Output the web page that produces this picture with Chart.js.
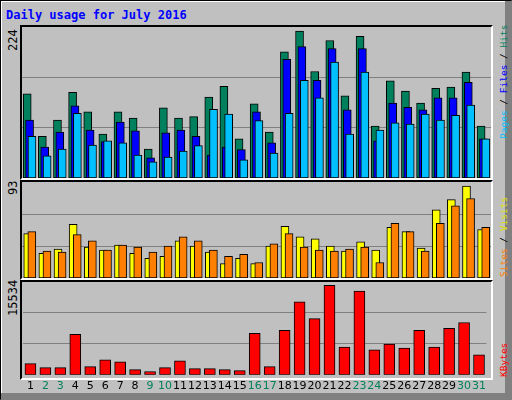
<!DOCTYPE html>
<html><head><meta charset="utf-8">
<script src="https://cdn.jsdelivr.net/npm/chart.js@4"></script>
<style>
body{margin:0;background:#fff}
#w{position:absolute;left:0;top:0;width:510px;height:398px;background:#c0c0c0;border-left:1px solid #000;border-top:1px solid #000;border-right:1px solid #808080;border-bottom:1px solid #808080;box-shadow:inset -6px -6px 0 #808080,inset 1px 1px 0 #fff;font-family:"DejaVu Sans Mono",monospace}
.box{position:absolute;border-top:2px solid #000;border-left:2px solid #000;border-right:2px solid #fff;border-bottom:2px solid #fff;box-sizing:border-box}
.c{position:absolute}
.v{position:absolute;transform-origin:0 0;transform:rotate(-90deg);white-space:nowrap;font-size:12px}
.r{font-size:9.5px}
#t{position:absolute;left:5px;top:7px;color:#0000ff;font-weight:bold;font-size:12px}
</style></head><body>
<div id="w">
<div id="t">Daily usage for July 2016</div>
<div class="box" style="left:19px;top:24px;width:473px;height:155px"></div>
<div class="box" style="left:19px;top:179px;width:473px;height:100px"></div>
<div class="box" style="left:19px;top:279px;width:473px;height:100px"></div>
<div class="c" style="left:21px;top:26px;width:469px;height:151px"><canvas id="c1"></canvas></div>
<div class="c" style="left:21px;top:181px;width:469px;height:96px"><canvas id="c2"></canvas></div>
<div class="c" style="left:21px;top:281px;width:469px;height:116px"><canvas id="c3"></canvas></div>
<div class="v" style="left:5px;top:50px">224</div>
<div class="v" style="left:5px;top:194px">93</div>
<div class="v" style="left:5px;top:315px">15534</div>
<div class="v r" style="left:497px;top:138px"><span style="color:#00c0ff">Pages</span> / <span style="color:#0000ff">Files</span> / <span style="color:#00805c">Hits</span></div>
<div class="v r" style="left:497px;top:276px"><span style="color:#ff8000">Sites</span> / <span style="color:#e0e000">Visits</span></div>
<div class="v r" style="left:497px;top:376px;color:#ff0000">KBytes</div>
</div>
<script>
const days=[1,2,3,4,5,6,7,8,9,10,11,12,13,14,15,16,17,18,19,20,21,22,23,24,25,26,27,28,29,30,31];
const weekend=[2,3,9,10,16,17,23,24,30,31];
const hits=[125,62,86,127,98,65,98,89,43,104,89,91,120,136,58,110,68,187,218,158,204,122,210,77,144,129,111,133,135,157,77];
const files=[86,46,68,107,71,54,83,70,30,67,71,62,34,46,42,98,52,176,195,145,192,101,192,55,111,105,101,119,119,142,58];
const pages=[62,33,43,96,49,55,52,34,24,31,40,48,102,95,27,85,37,96,145,119,172,65,157,71,82,80,95,86,93,108,58];
const visits=[43,24,28,52,30,27,32,24,19,21,36,31,25,14,19,14,31,50,40,38,31,26,35,27,49,45,29,66,76,89,47];
const sites=[45,26,25,42,36,27,32,30,25,31,40,36,27,21,23,15,33,43,30,27,26,28,30,15,53,45,26,53,70,77,49];
const kbytes=[1860,1200,1200,6780,1370,2520,2190,875,550,1200,2350,1040,1040,875,710,6950,1370,7440,12200,9410,14990,4650,14000,4160,5140,4490,7440,4650,7770,8750,3340];
const maxTop=224,maxMid=93,maxBot=15534;

function ds(vals,off,color,w,ord){return{data:vals.map((v,i)=>({x:days[i]+off,y:v})),backgroundColor:color,borderColor:'#000',borderWidth:1,barThickness:w,grouped:false,borderSkipped:false,order:ord};}
function yScale(max,steps){return{min:0,max:max,afterBuildTicks:s=>{s.ticks=[];for(let k=1;k<steps;k++)s.ticks.push({value:max*k/steps});},ticks:{display:false},grid:{color:'#808080',lineWidth:1,drawTicks:false},border:{display:false}};}
function xScale(show){return{type:'linear',min:0.5,max:31.5,offset:false,grid:{display:false,drawTicks:false},border:{display:false},
 afterBuildTicks:s=>{s.ticks=days.map(d=>({value:d}));},
 ticks:{display:show,autoSkip:false,maxRotation:0,padding:5,font:{family:'DejaVu Sans',size:11},callback:v=>String(v),
  color:c=>weekend.includes(c.tick&&c.tick.value)?'#00805c':'#000'}};}
const base={responsive:true,maintainAspectRatio:false,animation:false,plugins:{legend:{display:false},tooltip:{enabled:false}},layout:{padding:0}};
new Chart(c1,{type:'bar',data:{datasets:[ds(hits,-0.155,'#00805c',8,3),ds(files,0,'#0000ff',8,2),ds(pages,0.16,'#00c0ff',8,1)]},options:{...base,scales:{x:xScale(false),y:yScale(maxTop,3)}}});
new Chart(c2,{type:'bar',data:{datasets:[ds(visits,-0.12,'#ffff00',8,2),ds(sites,0.15,'#ff8000',8,1)]},options:{...base,scales:{x:xScale(false),y:yScale(maxMid,3)}}});
new Chart(c3,{type:'bar',data:{datasets:[ds(kbytes,0,'#ff0000',11,1)]},options:{...base,scales:{x:xScale(true),y:yScale(maxBot,3)}}});
</script>
</body></html>
